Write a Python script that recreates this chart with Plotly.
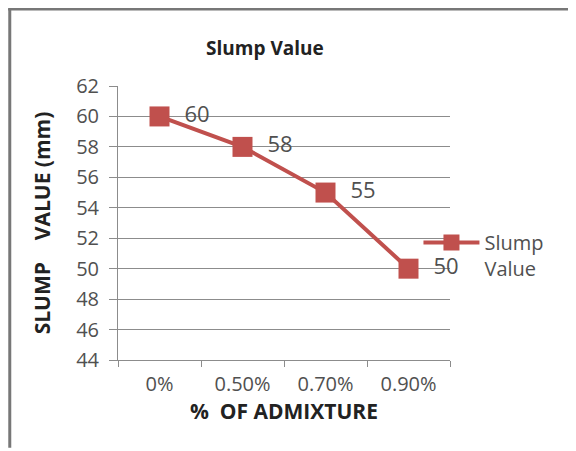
import plotly.graph_objects as go

admixture = ["0%", "0.50%", "0.70%", "0.90%"]
slump = [60, 58, 55, 50]
y_ticks = [44, 46, 48, 50, 52, 54, 56, 58, 60, 62]

red = "#C0504D"
font = "'Open Sans', Lato, sans-serif"
grey_txt = "#505050"

fig = go.Figure()
fig.add_trace(go.Scatter(
    x=admixture, y=slump, name="Slump<br>Value",
    mode="lines+markers+text", cliponaxis=False,
    line=dict(color=red, width=4),
    marker=dict(symbol="square", size=20, color=red),
    text=["\u00a0\u00a0" + str(v) for v in slump], textposition="middle right",
    textfont=dict(size=22, color=grey_txt, family=font),
))

# page has an 8px body margin, so margins are shifted by 8px
fig.update_layout(
    width=576, height=451,
    paper_bgcolor="white", plot_bgcolor="white",
    margin=dict(l=110, r=134, t=78, b=99),
    font=dict(family=font, color=grey_txt),
    title=dict(text="<b>Slump Value</b>", x=0.446, xanchor="center",
               y=0.911, yanchor="middle", font=dict(size=19, color="#222")),
    showlegend=True,
    legend=dict(x=0.905, xanchor="left", y=0.5, yanchor="top", valign="top",
                font=dict(size=20, color=grey_txt), itemwidth=56,
                bgcolor="rgba(0,0,0,0)"),
)

fig.update_xaxes(
    type="category", range=[-0.5, 3.5],
    showline=True, linecolor="#8c8c8c", linewidth=1,
    ticks="outside", tickson="boundaries", ticklen=6, tickcolor="#8c8c8c",
    showgrid=False, tickfont=dict(size=20, color=grey_txt),
    ticklabelstandoff=6,
    title=dict(text="<b>%\u00a0 OF ADMIXTURE</b>", font=dict(size=21, color="#222"),
               standoff=5),
)
fig.update_yaxes(
    range=[44, 62], tickvals=y_ticks,
    showline=True, linecolor="#8c8c8c", linewidth=1,
    ticks="outside", ticklen=8, tickcolor="#8c8c8c",
    showgrid=True, gridcolor="#8c8c8c", gridwidth=1, zeroline=False,
    tickfont=dict(size=20, color=grey_txt), ticklabelstandoff=6,
    title=dict(text="<b>SLUMP\u00a0\u00a0\u00a0 VALUE (mm)</b>",
               font=dict(size=21, color="#222"), standoff=19),
)

# chart frame (top and left edges)
fig.add_shape(type="line", xref="paper", yref="paper",
              x0=-0.331, x1=1.37, y0=1.281, y1=1.281,
              line=dict(color="#777", width=3))
fig.add_shape(type="line", xref="paper", yref="paper",
              x0=-0.326, x1=-0.326, y0=1.281, y1=-0.32,
              line=dict(color="#777", width=3))

fig.write_html("out.html")
